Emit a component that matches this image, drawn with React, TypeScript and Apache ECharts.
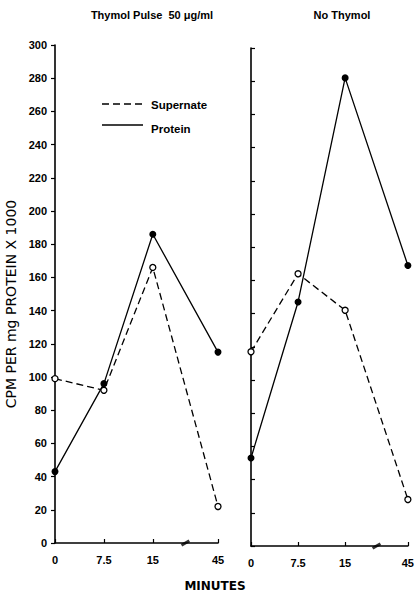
import React, { useEffect, useRef } from 'react';
import * as echarts from 'echarts';

// ---- data ----
const minutes = [0, 7.5, 15, 45];
const thymolSupernate = [99, 92, 166, 22];
const thymolProtein = [43, 96, 186, 115];
const noThymolSupernate = [117, 164, 142, 28];
const noThymolProtein = [53, 147, 282, 169];
const panelTitles = ['Thymol Pulse  50 \u03bcg/ml', 'No Thymol'];
const seriesNames = ['Supernate', 'Protein'];
const yMin = 0;
const yMax = 300;
const yStep = 20;
const xTitle = 'MINUTES';
const yTitle = 'CPM PER mg PROTEIN X 1000';

// broken time axis: 15 -> 45 minutes is drawn compressed
const BREAK_FROM = 15;
const BREAK_TO = 45;
const BREAK_SPAN = 10;
const axisPos = (m: number) =>
  m <= BREAK_FROM ? m : BREAK_FROM + ((m - BREAK_FROM) * BREAK_SPAN) / (BREAK_TO - BREAK_FROM);
const tickPos = minutes.map(axisPos);
const breakMarkPos = BREAK_FROM + BREAK_SPAN / 2;

const FONT = "'Liberation Sans', Arial, sans-serif";
const FONT_AXIS = "'DejaVu Sans', 'Liberation Sans', sans-serif";

export default function App() {
  const ref = useRef<HTMLDivElement>(null);

  useEffect(() => {
    const chart = echarts.init(ref.current!, null, { renderer: 'svg' });

    const grids = [
      { left: 55, top: 45, width: 163, height: 498 },
      { left: 251, top: 48, width: 162, height: 498 },
    ];

    const labelFmt = (v: number) => {
      const i = tickPos.findIndex((p) => Math.abs(p - v) < 1e-6);
      return i >= 0 ? String(minutes[i]) : '';
    };

    const xAxes = grids.map((_, i) => ({
      type: 'value',
      gridIndex: i,
      min: 0,
      max: axisPos(BREAK_TO),
      axisLine: { show: true, onZero: false, lineStyle: { color: '#000', width: 1.6 } },
      axisTick: {
        show: true,
        inside: true,
        length: 4,
        customValues: tickPos,
        lineStyle: { color: '#000', width: 1.2 },
      },
      axisLabel: {
        customValues: tickPos,
        formatter: labelFmt,
        margin: 11,
        color: '#000',
        fontFamily: FONT,
        fontWeight: 'bold',
        fontSize: 11,
        showMinLabel: true,
        showMaxLabel: true,
      },
      splitLine: { show: false },
    }));

    const yAxes = grids.map((_, i) => ({
      type: 'value',
      gridIndex: i,
      min: yMin,
      max: yMax,
      interval: yStep,
      axisLine: { show: true, onZero: false, lineStyle: { color: '#000', width: 1.6 } },
      axisTick: { show: true, inside: i === 1, length: 4, lineStyle: { color: '#000', width: 1.2 } },
      axisLabel: {
        show: i === 0,
        margin: 8,
        color: '#000',
        fontFamily: FONT,
        fontWeight: 'bold',
        fontSize: 11,
      },
      splitLine: { show: false },
    }));

    const panels = [
      [thymolSupernate, thymolProtein],
      [noThymolSupernate, noThymolProtein],
    ];

    const series: any[] = [];
    panels.forEach((vals, gi) => {
      vals.forEach((arr, si) => {
        const dashed = si === 0;
        series.push({
          name: seriesNames[si],
          type: 'line',
          xAxisIndex: gi,
          yAxisIndex: gi,
          data: minutes.map((m, k) => [axisPos(m), arr[k]]),
          clip: false,
          symbol: 'circle',
          symbolSize: dashed ? 6 : 7,
          showAllSymbol: true,
          lineStyle: { color: '#000', width: 1.3, type: dashed ? [7, 4] : 'solid' },
          itemStyle: dashed
            ? { color: '#fff', borderColor: '#000', borderWidth: 1.3 }
            : { color: '#000', borderColor: '#000', borderWidth: 0 },
          z: dashed ? 3 : 2,
          silent: true,
        });
      });
      series.push({
        type: 'scatter',
        xAxisIndex: gi,
        yAxisIndex: gi,
        data: [[breakMarkPos, yMin]],
        symbol: 'rect',
        symbolSize: [9, 3],
        symbolRotate: 30,
        itemStyle: { color: '#000' },
        clip: false,
        silent: true,
        z: 5,
      });
    });

    const graphic: any[] = [
      {
        type: 'text',
        x: 152,
        y: 15,
        style: {
          text: panelTitles[0],
          fill: '#000',
          font: `bold 11px ${FONT}`,
          textAlign: 'center',
          textVerticalAlign: 'middle',
        },
      },
      {
        type: 'text',
        x: 342,
        y: 15,
        style: {
          text: panelTitles[1],
          fill: '#000',
          font: `bold 11px ${FONT}`,
          textAlign: 'center',
          textVerticalAlign: 'middle',
        },
      },
      {
        type: 'line',
        shape: { x1: 102, y1: 104, x2: 143, y2: 104 },
        style: { stroke: '#000', lineWidth: 1.3, lineDash: [7, 4] },
      },
      {
        type: 'line',
        shape: { x1: 102, y1: 125, x2: 143, y2: 125 },
        style: { stroke: '#000', lineWidth: 1.3 },
      },
      {
        type: 'text',
        x: 151,
        y: 105,
        style: {
          text: seriesNames[0],
          fill: '#000',
          font: `bold 11.5px ${FONT}`,
          textVerticalAlign: 'middle',
        },
      },
      {
        type: 'text',
        x: 151,
        y: 129,
        style: {
          text: seriesNames[1],
          fill: '#000',
          font: `bold 11.5px ${FONT}`,
          textVerticalAlign: 'middle',
        },
      },
      {
        type: 'text',
        x: 215,
        y: 586,
        style: {
          text: xTitle,
          fill: '#000',
          font: `bold 12px ${FONT_AXIS}`,
          textAlign: 'center',
          textVerticalAlign: 'middle',
        },
      },
      {
        type: 'text',
        x: 11,
        y: 304,
        rotation: Math.PI / 2,
        style: {
          text: yTitle,
          fill: '#000',
          font: `14px ${FONT_AXIS}`,
          textAlign: 'center',
          textVerticalAlign: 'middle',
        },
      },
    ];

    chart.setOption({
      animation: false,
      backgroundColor: '#fff',
      grid: grids,
      xAxis: xAxes,
      yAxis: yAxes,
      series,
      graphic,
    });

    return () => chart.dispose();
  }, []);

  return (
    <div
      ref={ref}
      style={{ position: 'fixed', left: 0, top: 0, width: 417, height: 594, background: '#fff' }}
    />
  );
}
